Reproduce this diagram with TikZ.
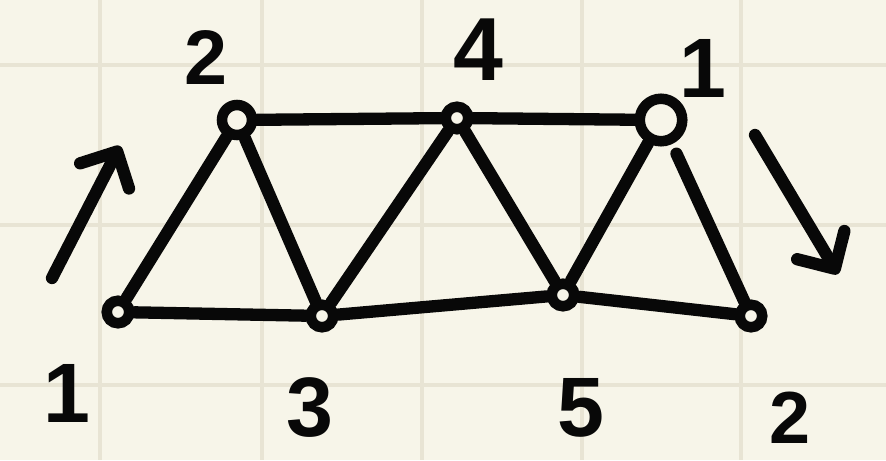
\documentclass[tikz,border=0pt]{standalone}
\usepackage{fontspec}
\setmainfont{Liberation Sans}
\usepackage{tikz}
\usetikzlibrary{arrows.meta}
\definecolor{PaperCream}{RGB}{247,245,233}
\definecolor{GridLine}{RGB}{232,228,212}
\definecolor{InkBlack}{RGB}{8,8,8}

\begin{document}
\begin{tikzpicture}[x=0.02cm, y=-0.02cm]
  \tikzset{jt/.style={circle, draw=InkBlack, line width=6pt, fill=PaperCream, minimum size=0.45cm, inner sep=0pt},
    mb/.style={draw=InkBlack, line width=7pt, line cap=round},
    mv/.style={mb, -{Straight Barb[length=0.55cm, width=1.1cm, round]}},
    lb/.style={font=\fontsize{#1}{#1}\selectfont\bfseries, text=InkBlack, inner sep=0pt}}
  \useasboundingbox (0,0) rectangle (886,460);
  \fill[PaperCream] (0,0) rectangle (886,460);
  % squared paper
  \foreach \gx in {100,262,422,582,741}
    \draw[GridLine, line width=2.5pt] (\gx,0) -- (\gx,460);
  \foreach \gy in {65,225,385}
    \draw[GridLine, line width=2.5pt] (0,\gy) -- (886,\gy);

  \node[jt] (j1) at (118,312) {};
  \node[jt, minimum size=0.6cm] (j2) at (237,120) {};
  \node[jt] (j3) at (322,316) {};
  \node[jt] (j4) at (457,118) {};
  \node[jt] (j5) at (563,295) {};
  \node[jt, minimum size=0.85cm] (j6) at (661,120) {};
  \node[jt] (j7) at (751,316) {};

  \draw[mb] (j1) -- (j2);
  \draw[mb] (j1) -- (j3);
  \draw[mb] (j2) -- (j3);
  \draw[mb] (j2) -- (j4);
  \draw[mb] (j3) -- (j4);
  \draw[mb] (j3) -- (j5);
  \draw[mb] (j4) -- (j5);
  \draw[mb] (j4) -- (j6);
  \draw[mb] (j5) -- (j6);
  \draw[mb] (j5) -- (j7);
  \draw[mb, shorten <=6pt] (j6) -- (j7);

  \node[lb=44] (t2) at (206,58) {2};
  \node[lb=51] (t4) at (478,50) {4};
  \node[lb=48] (t6) at (703,68) {1};
  \node[lb=48] (t1) at (67,393) {1};
  \node[lb=48] (t3) at (310,408) {3};
  \node[lb=48] (t5) at (581,408) {5};
  \node[lb=42] (t7) at (790,418) {2};

  \coordinate (ia) at (52,278);
  \coordinate (ib) at (120,146);
  \coordinate (oa) at (755,135);
  \coordinate (ob) at (838,274);
  \draw[mv] (ia) -- (ib);
  \draw[mv] (oa) -- (ob);
\end{tikzpicture}
\end{document}
